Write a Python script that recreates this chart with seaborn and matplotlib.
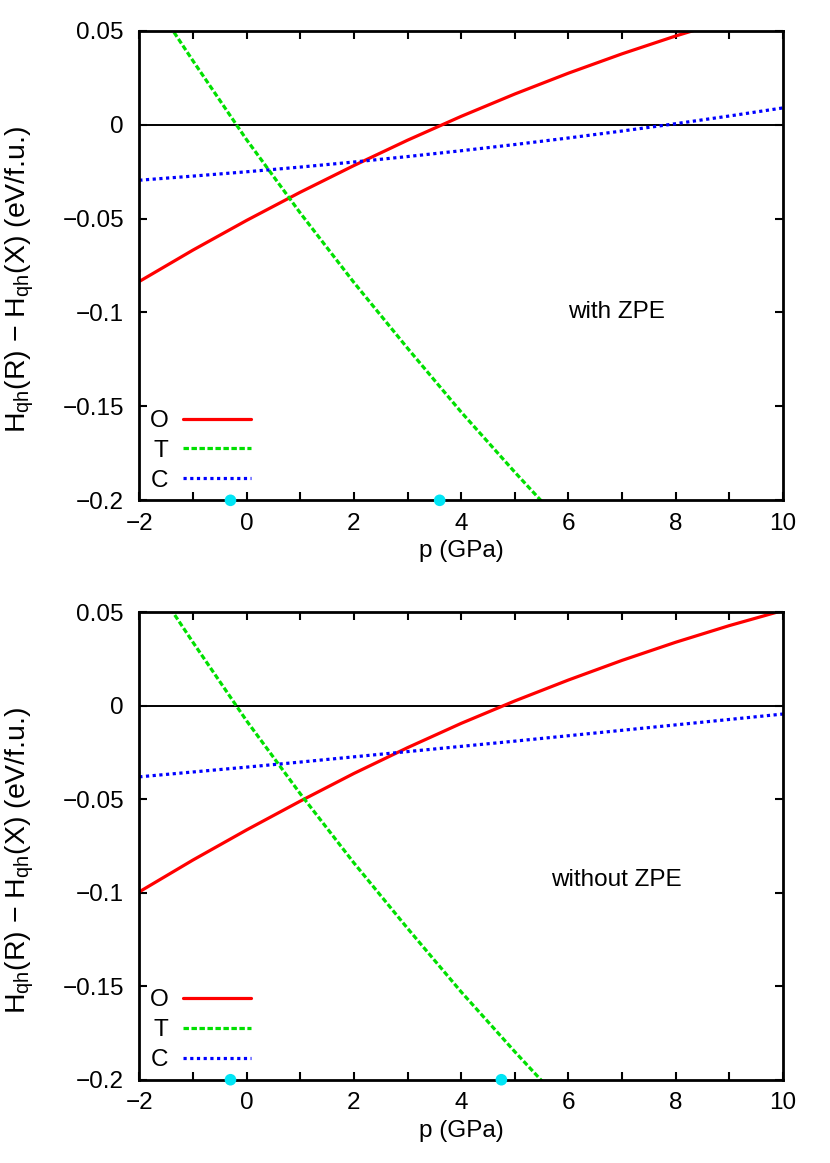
import pandas as pd
import matplotlib
matplotlib.use("Agg")
import matplotlib.pyplot as plt
import seaborn as sns
from matplotlib.ticker import MultipleLocator, FixedLocator

sns.set_style("ticks")
plt.rcParams['font.family'] = ['Liberation Sans', 'DejaVu Sans']
plt.rcParams['mathtext.fontset'] = 'custom'
plt.rcParams['mathtext.rm'] = 'Liberation Sans'
plt.rcParams['mathtext.it'] = 'Liberation Sans:italic'
for k in ['text.color', 'axes.labelcolor', 'xtick.color', 'ytick.color', 'axes.edgecolor']:
    plt.rcParams[k] = 'black'

FS = 17.5

# pressao (GPa)
p = [-2, -1, 0, 1, 2, 3, 4, 5, 6, 7, 8, 9, 10]
p_T = [-2, -1, 0, 1, 2, 3, 4, 5, 6]

# painel de cima: com ZPE
top_O = [-0.0835, -0.0668, -0.0510, -0.0360, -0.0218, -0.0083, 0.0044, 0.0163, 0.0274, 0.0377, 0.0472, 0.0559, 0.0638]
top_T = [0.077, 0.034, -0.008, -0.047, -0.084, -0.119, -0.153, -0.185, -0.216]
top_C = [-0.0296, -0.0274, -0.0251, -0.0226, -0.0199, -0.0170, -0.0139, -0.0106, -0.0071, -0.0034, 0.0005, 0.0046, 0.0089]
top_dots = [-0.3, 3.6]

# painel de baixo: sem ZPE
bot_O = [-0.0995, -0.0825, -0.0664, -0.0510, -0.0362, -0.0224, -0.0094, 0.0026, 0.0138, 0.0243, 0.0340, 0.0429, 0.0510]
bot_T = [0.077, 0.034, -0.008, -0.047, -0.084, -0.119, -0.153, -0.185, -0.216]
bot_C = [-0.0380, -0.0354, -0.0328, -0.0301, -0.0273, -0.0245, -0.0217, -0.0189, -0.0160, -0.0131, -0.0102, -0.0073, -0.0044]
bot_dots = [-0.3, 4.75]

xticks = [-2, 0, 2, 4, 6, 8, 10]
xtick_labels = ['\u22122', '0', '2', '4', '6', '8', '10']
yticks = [0.05, 0.0, -0.05, -0.1, -0.15, -0.2]
ytick_labels = ['0.05', '0', '\u22120.05', '\u22120.1', '\u22120.15', '\u22120.2']

ylabel = 'H$_{\\mathrm{qh}}$(R) \u2212 H$_{\\mathrm{qh}}$(X) (eV/f.u.)'

fig = plt.figure(figsize=(8.3, 11.63), dpi=100)
ax1 = fig.add_axes([0.1678, 0.5698, 0.7756, 0.4038])
ax2 = fig.add_axes([0.1678, 0.0716, 0.7756, 0.4019])


def painel(ax, O, T, C, dots, texto, ytexto):
    ax.axhline(0, color='black', lw=1.4, zorder=1)
    sns.lineplot(x=p, y=O, ax=ax, color='#ff0000', lw=2.3, label='O')
    sns.lineplot(x=p_T, y=T, ax=ax, color='#00e000', lw=2.3,
                 linestyle=(0, (1.7, 0.8)), label='T')
    sns.lineplot(x=p, y=C, ax=ax, color='#0000ff', lw=2.3,
                 linestyle=(0, (1.0, 1.1)), label='C')
    sns.scatterplot(x=dots, y=[-0.2] * len(dots), ax=ax, color='#00e5f5',
                    s=70, edgecolor='none', clip_on=False, zorder=5)
    ax.set_xlim(-2, 10)
    ax.set_ylim(-0.2, 0.05)
    ax.xaxis.set_major_locator(FixedLocator(xticks))
    ax.set_xticklabels(xtick_labels)
    ax.xaxis.set_minor_locator(MultipleLocator(1))
    ax.yaxis.set_major_locator(FixedLocator(yticks))
    ax.set_yticklabels(ytick_labels)
    ax.tick_params(which='both', direction='in', top=True, right=True,
                   length=6, width=1.5, labelsize=FS)
    ax.tick_params(axis='x', pad=9)
    ax.tick_params(axis='y', pad=11)
    for s in ax.spines.values():
        s.set_linewidth(2)
    ax.set_xlabel('p (GPa)', fontsize=FS, labelpad=4)
    ax.set_ylabel(ylabel, fontsize=20.5)
    ax.yaxis.set_label_coords(-0.16, 0.47)
    ax.text(6.9, ytexto, texto, fontsize=FS, ha='center', va='center')
    ax.legend(loc='lower left', bbox_to_anchor=(-0.005, -0.01), frameon=False,
              markerfirst=False, handlelength=2.8, handletextpad=0.6,
              labelspacing=0.32, fontsize=FS, borderaxespad=0.15)


painel(ax1, top_O, top_T, top_C, top_dots, 'with ZPE', -0.1)
painel(ax2, bot_O, bot_T, bot_C, bot_dots, 'without ZPE', -0.093)

fig.savefig('out.png', dpi=100)
